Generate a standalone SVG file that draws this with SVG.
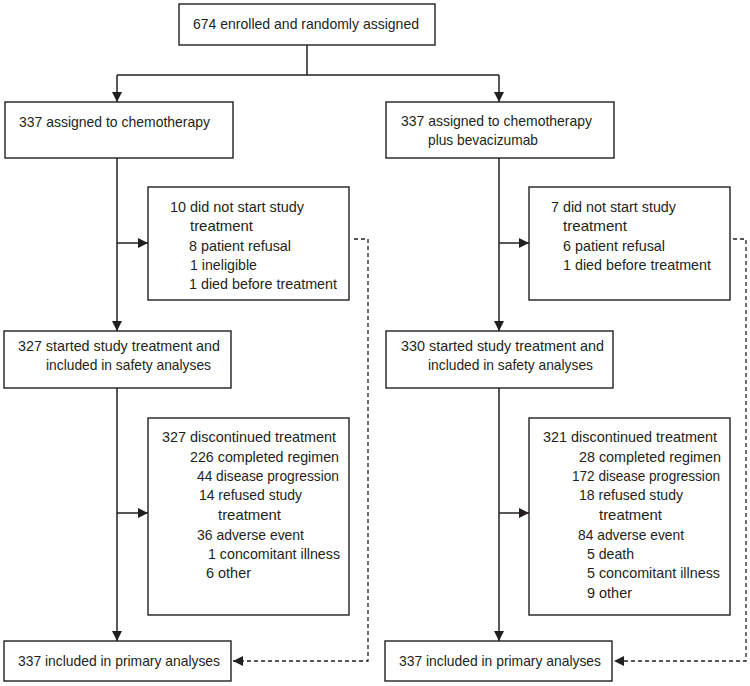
<svg xmlns="http://www.w3.org/2000/svg" width="750" height="686" viewBox="0 0 750 686">
<defs>
<style>
.box{fill:#fff;stroke:#231f20;stroke-width:1.4}
.ln{fill:none;stroke:#231f20;stroke-width:1.5}
.dash{fill:none;stroke:#231f20;stroke-width:1.3;stroke-dasharray:4 3}
text{font-family:"Liberation Sans",Arial,sans-serif;font-size:14.5px;fill:#231f20}
</style>
<marker id="ah" viewBox="0 0 10 10" refX="10" refY="5" markerWidth="10" markerHeight="10" markerUnits="userSpaceOnUse" orient="auto">
<path d="M0,0 L10,5 L0,10 Z" fill="#231f20"/>
</marker>
</defs>
<rect width="750" height="686" fill="#fff"/>
<g id="connectors">
<path class="ln" d="M307,45 V75"/>
<path class="ln" d="M117,75 H499"/>
<path class="ln" d="M117,75 V102" marker-end="url(#ah)"/>
<path class="ln" d="M499,75 V102" marker-end="url(#ah)"/>
<path class="ln" d="M117,158 V331" marker-end="url(#ah)"/>
<path class="ln" d="M117,243 H148" marker-end="url(#ah)"/>
<path class="ln" d="M499,158 V331" marker-end="url(#ah)"/>
<path class="ln" d="M499,243 H529" marker-end="url(#ah)"/>
<path class="ln" d="M117,388 V641" marker-end="url(#ah)"/>
<path class="ln" d="M117,513 H148" marker-end="url(#ah)"/>
<path class="ln" d="M499,388 V641" marker-end="url(#ah)"/>
<path class="ln" d="M499,513 H529" marker-end="url(#ah)"/>
<path class="dash" d="M354,239 H368 V661 H233" marker-end="url(#ah)"/>
<path class="dash" d="M733,239 H746 V661 H614" marker-end="url(#ah)"/>
</g>
<g id="enrolled">
<rect class="box" x="179" y="4" width="256" height="41"/>
<text x="193" y="29" textLength="226" lengthAdjust="spacingAndGlyphs">674 enrolled and randomly assigned</text>
</g>
<g id="chemo">
<rect class="box" x="5" y="102" width="228" height="56"/>
<text x="19" y="127" textLength="191" lengthAdjust="spacingAndGlyphs">337 assigned to chemotherapy</text>
</g>
<g id="bev">
<rect class="box" x="386" y="102" width="228" height="56"/>
<text x="401" y="126" textLength="191" lengthAdjust="spacingAndGlyphs">337 assigned to chemotherapy</text>
<text x="428" y="145" textLength="110" lengthAdjust="spacingAndGlyphs">plus bevacizumab</text>
</g>
<g id="chemo-nostart">
<rect class="box" x="148" y="187" width="201" height="113"/>
<text x="170" y="212" textLength="134" lengthAdjust="spacingAndGlyphs">10 did not start study</text>
<text x="190" y="231" textLength="63" lengthAdjust="spacingAndGlyphs">treatment</text>
<text x="189" y="251" textLength="102" lengthAdjust="spacingAndGlyphs">8 patient refusal</text>
<text x="190" y="270" textLength="67" lengthAdjust="spacingAndGlyphs">1 ineligible</text>
<text x="189" y="289" textLength="148" lengthAdjust="spacingAndGlyphs">1 died before treatment</text>
</g>
<g id="bev-nostart">
<rect class="box" x="529" y="187" width="201" height="113"/>
<text x="551" y="212" textLength="125" lengthAdjust="spacingAndGlyphs">7 did not start study</text>
<text x="563" y="231" textLength="64" lengthAdjust="spacingAndGlyphs">treatment</text>
<text x="563" y="251" textLength="102" lengthAdjust="spacingAndGlyphs">6 patient refusal</text>
<text x="563" y="270" textLength="148" lengthAdjust="spacingAndGlyphs">1 died before treatment</text>
</g>
<g id="chemo-started">
<rect class="box" x="4" y="331" width="227" height="57"/>
<text x="18" y="351" textLength="202" lengthAdjust="spacingAndGlyphs">327 started study treatment and</text>
<text x="46" y="370" textLength="165" lengthAdjust="spacingAndGlyphs">included in safety analyses</text>
</g>
<g id="bev-started">
<rect class="box" x="386" y="331" width="227" height="57"/>
<text x="401" y="351" textLength="203" lengthAdjust="spacingAndGlyphs">330 started study treatment and</text>
<text x="428" y="370" textLength="165" lengthAdjust="spacingAndGlyphs">included in safety analyses</text>
</g>
<g id="chemo-disc">
<rect class="box" x="148" y="418" width="201" height="197"/>
<text x="162" y="442" textLength="174" lengthAdjust="spacingAndGlyphs">327 discontinued treatment</text>
<text x="190" y="462" textLength="149" lengthAdjust="spacingAndGlyphs">226 completed regimen</text>
<text x="197" y="481" textLength="142" lengthAdjust="spacingAndGlyphs">44 disease progression</text>
<text x="199" y="500" textLength="103" lengthAdjust="spacingAndGlyphs">14 refused study</text>
<text x="218" y="520" textLength="63" lengthAdjust="spacingAndGlyphs">treatment</text>
<text x="197" y="540" textLength="107" lengthAdjust="spacingAndGlyphs">36 adverse event</text>
<text x="208" y="559" textLength="132" lengthAdjust="spacingAndGlyphs">1 concomitant illness</text>
<text x="206" y="578" textLength="45" lengthAdjust="spacingAndGlyphs">6 other</text>
</g>
<g id="bev-disc">
<rect class="box" x="529" y="418" width="201" height="197"/>
<text x="543" y="442" textLength="174" lengthAdjust="spacingAndGlyphs">321 discontinued treatment</text>
<text x="579" y="462" textLength="142" lengthAdjust="spacingAndGlyphs">28 completed regimen</text>
<text x="572" y="481" textLength="148" lengthAdjust="spacingAndGlyphs">172 disease progression</text>
<text x="579" y="500" textLength="104" lengthAdjust="spacingAndGlyphs">18 refused study</text>
<text x="599" y="520" textLength="63" lengthAdjust="spacingAndGlyphs">treatment</text>
<text x="578" y="540" textLength="106" lengthAdjust="spacingAndGlyphs">84 adverse event</text>
<text x="587" y="559" textLength="47" lengthAdjust="spacingAndGlyphs">5 death</text>
<text x="587" y="578" textLength="133" lengthAdjust="spacingAndGlyphs">5 concomitant illness</text>
<text x="587" y="598" textLength="45" lengthAdjust="spacingAndGlyphs">9 other</text>
</g>
<g id="chemo-primary">
<rect class="box" x="4" y="641" width="227" height="40"/>
<text x="18" y="666" textLength="202" lengthAdjust="spacingAndGlyphs">337 included in primary analyses</text>
</g>
<g id="bev-primary">
<rect class="box" x="385" y="641" width="227" height="40"/>
<text x="399" y="666" textLength="202" lengthAdjust="spacingAndGlyphs">337 included in primary analyses</text>
</g>
</svg>
